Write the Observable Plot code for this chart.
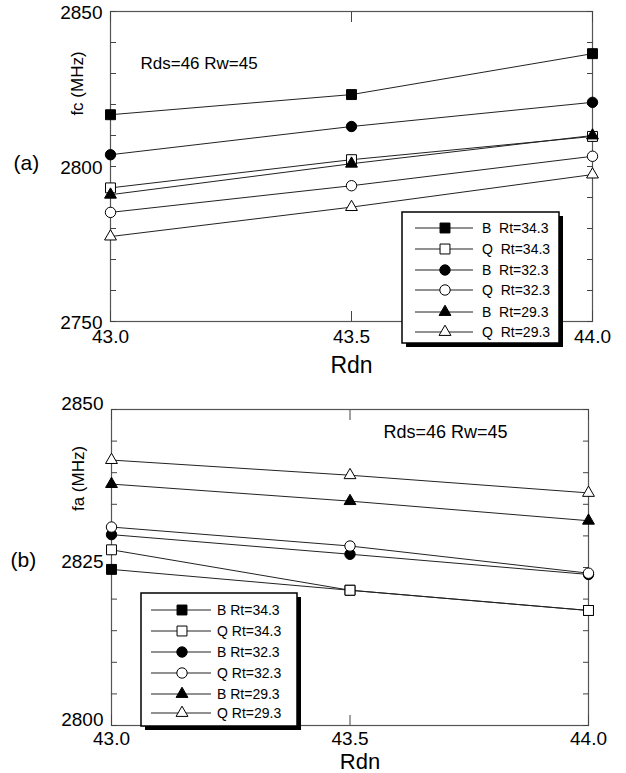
<!DOCTYPE html>
<html>
<head>
<meta charset="utf-8">
<script src="https://cdn.jsdelivr.net/npm/d3@7"></script>
<script src="https://cdn.jsdelivr.net/npm/@observablehq/plot@0.6"></script>
<style>
  html, body { margin: 0; padding: 0; background: #fff; }
  #wrap { position: relative; width: 626px; height: 773px; font-family: "Liberation Sans", Arial, sans-serif; }
  #wrap > div, #wrap > svg { position: absolute; left: 0; }
  .legend text { white-space: pre; }
</style>
</head>
<body>
<div id="wrap"></div>
<script>
// ---------- data ----------
const rdn = [43.0, 43.5, 44.0];
const seriesNames = ["B Rt=34.3", "Q Rt=34.3", "B Rt=32.3", "Q Rt=32.3", "B Rt=29.3", "Q Rt=29.3"];
const legendLabelsA = ["B  Rt=34.3", "Q  Rt=34.3", "B  Rt=32.3", "Q  Rt=32.3", "B  Rt=29.3", "Q  Rt=29.3"];
const legendLabelsB = ["B Rt=34.3", "Q Rt=34.3", "B Rt=32.3", "Q Rt=32.3", "B Rt=29.3", "Q Rt=29.3"];
// (a) fc (MHz)
const fcB343 = [2816.7, 2823.2, 2836.4];
const fcQ343 = [2793.1, 2802.2, 2809.7];
const fcB323 = [2803.8, 2812.9, 2820.7];
const fcQ323 = [2785.2, 2793.8, 2803.3];
const fcB293 = [2790.9, 2800.9, 2810.0];
const fcQ293 = [2777.4, 2786.9, 2797.4];
// (b) fa (MHz)
const faB343 = [2824.7, 2821.4, 2818.2];
const faQ343 = [2827.8, 2821.4, 2818.2];
const faB323 = [2830.2, 2827.1, 2823.9];
const faQ323 = [2831.4, 2828.4, 2824.1];
const faB293 = [2838.2, 2835.5, 2832.4];
const faQ293 = [2842.0, 2839.6, 2836.8];
const xTicks = [43.0, 43.5, 44.0];
const yTicksA = [2750, 2760, 2770, 2780, 2790, 2800, 2810, 2820, 2830, 2840, 2850];
const yLabelsA = [2750, 2800, 2850];
const yTicksB = [2800, 2805, 2810, 2815, 2820, 2825, 2830, 2835, 2840, 2845, 2850];
const yLabelsB = [2800, 2825, 2850];
const annotation = "Rds=46 Rw=45";

// marker style per series
const styles = [
  {symbol: "square", fill: "black", r: 5.6},
  {symbol: "square", fill: "white", r: 5.6},
  {symbol: "circle", fill: "black", r: 5.2},
  {symbol: "circle", fill: "white", r: 5.2},
  {symbol: "triangle", fill: "black", r: 4.4},
  {symbol: "triangle", fill: "white", r: 4.4}
];

function toRows(arrays) {
  const rows = [];
  arrays.forEach((arr, i) => arr.forEach((v, j) => rows.push({series: seriesNames[i], idx: i, x: rdn[j], y: v})));
  return rows;
}

const FONT = "Liberation Sans, Arial, sans-serif";

function makePlot(o) {
  const rows = toRows(o.arrays);
  const marks = [
    Plot.frame({stroke: "#555", strokeWidth: 1.2}),
    // inward ticks
    Plot.axisY(o.yTicks, {anchor: "left", tickSize: -6, tickFormat: () => "", stroke: "#444", label: null}),
    Plot.axisY(o.yTicks, {anchor: "right", tickSize: -6, tickFormat: () => "", stroke: "#444", label: null}),
    Plot.axisX(xTicks, {anchor: "bottom", tickSize: -10, tickFormat: () => "", stroke: "#444", label: null}),
    Plot.axisX(xTicks, {anchor: "top", tickSize: -10, tickFormat: () => "", stroke: "#444", label: null}),
    // labels
    Plot.axisY(o.yLabels, {anchor: "left", tickSize: 0, tickPadding: 8, dy: o.yLabDy, tickFormat: d => String(d), fontSize: 19, fill: "black", label: null}),
    Plot.axisX(xTicks, {anchor: "bottom", tickSize: 0, tickPadding: o.xPad, tickFormat: d => d.toFixed(1), fontSize: 19, fill: "black", label: null}),
    // lines
    Plot.line(rows, {x: "x", y: "y", z: "series", stroke: "#222", strokeWidth: 1})
  ];
  styles.forEach((s, i) => {
    marks.push(Plot.dot(rows.filter(d => d.idx === i), {
      x: "x", y: "y", symbol: () => s.symbol, r: s.r,
      fill: s.fill, stroke: "black", strokeWidth: 1
    }));
  });
  marks.push(Plot.text([annotation], {frameAnchor: "top-left", dx: o.annDx, dy: o.annDy, fontSize: o.annSize, textAnchor: "start", lineAnchor: "middle", fill: "black"}));
  marks.push(Plot.text([o.xLabel], {frameAnchor: "bottom", dx: o.xLabelDx, dy: o.xLabelDy, fontSize: o.xLabelSize, textAnchor: "middle", lineAnchor: "middle", fill: "black"}));
  marks.push(Plot.text([o.yLabel], {frameAnchor: "left", dx: -33, dy: o.yLabelDy, rotate: -90, fontSize: 17, textAnchor: "middle", lineAnchor: "middle", fill: "black"}));
  marks.push(Plot.text([o.panel], {frameAnchor: "left", dx: o.panelDx, dy: o.panelDy, fontSize: 21, fill: "black", textAnchor: "start", lineAnchor: "middle"}));
  return Plot.plot({
    width: 626,
    height: o.height,
    marginLeft: o.ml, marginRight: o.mr, marginTop: o.mt, marginBottom: o.mb,
    style: {fontFamily: FONT, background: "transparent", overflow: "visible"},
    x: {domain: [43, 44], axis: null},
    y: {domain: [o.y0, o.y1], axis: null},
    marks
  });
}

const wrap = document.getElementById("wrap");

const plotA = makePlot({
  arrays: [fcB343, fcQ343, fcB323, fcQ323, fcB293, fcQ293],
  yTicks: yTicksA, yLabels: yLabelsA, y0: 2750, y1: 2850, yLabDy: 1,
  height: 380, ml: 110, mr: 34, mt: 11, mb: 59,
  xPad: 8, annDx: 30, annDy: 52, annSize: 17,
  xLabel: "Rdn", xLabelDx: 0, xLabelDy: 44, xLabelSize: 23,
  yLabel: "fc (MHz)", yLabelDy: -83,
  panel: "(a)", panelDx: -97, panelDy: -3
});
const divA = document.createElement("div");
divA.style.top = "0px";
divA.appendChild(plotA);
wrap.appendChild(divA);

const plotB = makePlot({
  arrays: [faB343, faQ343, faB323, faQ323, faB293, faQ293],
  yTicks: yTicksB, yLabels: yLabelsB, y0: 2800, y1: 2850, yLabDy: -6,
  height: 393, ml: 111, mr: 38, mt: 29, mb: 48,
  xPad: 6, annDx: 272, annDy: 23, annSize: 18,
  xLabel: "Rdn", xLabelDx: 10, xLabelDy: 36, xLabelSize: 22,
  yLabel: "fa (MHz)", yLabelDy: -89,
  panel: "(b)", panelDx: -101, panelDy: -7
});
const divB = document.createElement("div");
divB.style.top = "380px";
divB.appendChild(plotB);
wrap.appendChild(divB);

// ---------- legends ----------
function legend(cfg) {
  const svg = d3.select(wrap).append("svg")
    .attr("class", "legend")
    .attr("width", 626).attr("height", 773)
    .style("top", "0px").style("pointer-events", "none");
  const g = svg.append("g").attr("font-family", FONT);
  g.append("rect").attr("x", cfg.x + cfg.sh).attr("y", cfg.y + cfg.sh)
    .attr("width", cfg.w).attr("height", cfg.h).attr("fill", "black");
  g.append("rect").attr("x", cfg.x).attr("y", cfg.y)
    .attr("width", cfg.w).attr("height", cfg.h).attr("fill", "white")
    .attr("stroke", "black").attr("stroke-width", 1.5);
  cfg.labels.forEach((lab, i) => {
    const yy = cfg.rowY[i];
    g.append("line").attr("x1", cfg.lx1).attr("x2", cfg.lx2).attr("y1", yy).attr("y2", yy)
      .attr("stroke", "#222").attr("stroke-width", 1);
    const s = styles[i];
    const sym = s.symbol === "square" ? d3.symbolSquare : s.symbol === "circle" ? d3.symbolCircle : d3.symbolTriangle;
    g.append("path").attr("d", d3.symbol(sym, Math.PI * s.r * s.r)())
      .attr("transform", `translate(${cfg.mx},${yy})`)
      .attr("fill", s.fill).attr("stroke", "black").attr("stroke-width", 1);
    g.append("text").attr("x", cfg.tx).attr("y", yy).attr("dy", "0.35em")
      .attr("font-size", 14).attr("fill", "black").text(lab);
  });
}
legend({x: 402, y: 212, w: 157, h: 131, sh: 4, rowY: [228, 249, 270, 290, 312, 332],
  lx1: 415, lx2: 473, mx: 445, tx: 482, labels: legendLabelsA});
legend({x: 141, y: 593, w: 156, h: 133, sh: 4, rowY: [610, 631, 652, 673, 694, 713],
  lx1: 151, lx2: 211, mx: 182, tx: 217, labels: legendLabelsB});
</script>
</body>
</html>
